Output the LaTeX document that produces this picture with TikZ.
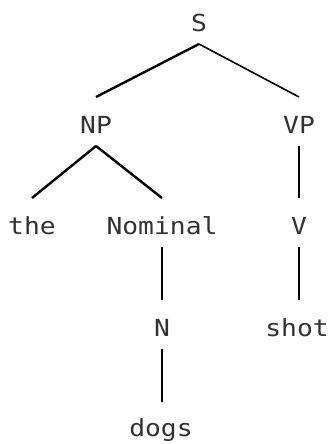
\documentclass[tikz,border=0pt]{standalone}
\usepackage{fontspec}
\newfontfamily\treefont{DejaVu Sans Mono}[FakeStretch=1.12]
\definecolor{labelgray}{RGB}{50,50,50}
\begin{document}
\begin{tikzpicture}[x=1pt,y=-1pt,
  word/.style={inner sep=0pt,text=labelgray,font=\treefont\fontsize{23.5}{27}\selectfont},
  branch/.style={draw=black,line width=2pt}]
\useasboundingbox (0,0) rectangle (332,444);
% tree labels
\node[word] (S) at (199,23) {S};
\node[word] (NP) at (96,125) {NP};
\node[word] (VP) at (299,125) {VP};
\node[word] (the) at (32,226) {the};
\node[word] (Nom) at (162,226) {Nominal};
\node[word] (V) at (299,226) {V};
\node[word] (N) at (162,328) {N};
\node[word] (shot) at (297,328) {shot};
\node[word] (dogs) at (161,430) {dogs};
% branches: start just below the parent label, end just above the child label
\newcommand{\branchline}[3][]{%
  \draw[branch,#1] ([yshift=-21pt]#2.center) -- ([yshift=28pt]#3.center);}
% single-child branches hang straight down from the parent
\newcommand{\stemline}[2]{%
  \draw[branch] ([yshift=-21pt]#1.center) -- ([yshift=28pt]#1.center |- #2.center);}
\branchline[line width=2.4pt]{S}{NP}
\branchline[line width=1.6pt]{S}{VP}
\branchline[line width=2.4pt]{NP}{the}
\branchline[line width=2.4pt]{NP}{Nom}
\stemline{VP}{V}
\stemline{Nom}{N}
\stemline{V}{shot}
\stemline{N}{dogs}
\end{tikzpicture}
\end{document}
